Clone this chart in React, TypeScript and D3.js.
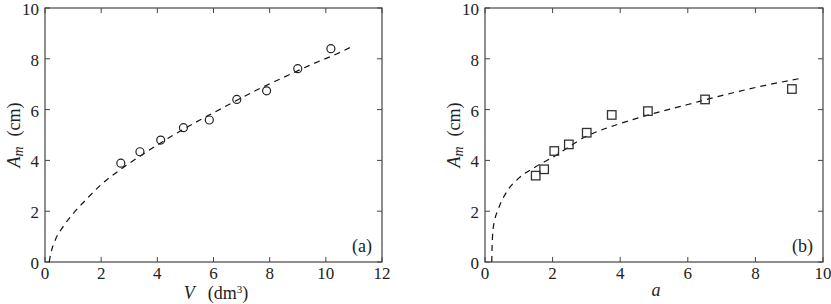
import * as d3 from "d3";

// panel (a): A_m vs V
const volumeV = [2.7, 3.38, 4.12, 4.93, 5.85, 6.83, 7.89, 9.0, 10.18];
const ampA = [3.89, 4.34, 4.8, 5.29, 5.59, 6.4, 6.74, 7.61, 8.4];
const fitAx = [0.15, 0.2, 0.36, 0.65, 1, 1.5, 2, 2.7, 3.5, 4.5, 5.5, 6.5, 7.5, 8.5, 9.5, 10.4, 11];
const fitAy = [0, 0.3, 0.85, 1.4, 1.9, 2.5, 3.05, 3.65, 4.25, 4.95, 5.58, 6.17, 6.75, 7.27, 7.78, 8.2, 8.52];

// panel (b): A_m vs a
const ratioB = [1.5, 1.75, 2.05, 2.48, 3.01, 3.75, 4.82, 6.51, 9.08];
const ampB = [3.4, 3.65, 4.37, 4.63, 5.09, 5.79, 5.94, 6.4, 6.81];
const fitBx = [0.2, 0.21, 0.25, 0.4, 0.65, 1, 1.5, 2, 3, 4, 5, 6, 7, 8, 9.3];
const fitBy = [0, 0.6, 1.4, 2.1, 2.78, 3.3, 3.75, 4.12, 4.95, 5.45, 5.85, 6.2, 6.55, 6.87, 7.22];

const yTicks = [0, 2, 4, 6, 8, 10];
const xTicksA = [0, 2, 4, 6, 8, 10, 12];
const xTicksB = [0, 2, 4, 6, 8, 10];

const FONT = '"Liberation Serif"';
const INK = "#222";
const FRAME = "#444";
const TOP = 8;
const BOTTOM = 262;
const tickFont = { fontFamily: FONT, fontSize: "17px" };
const titleFont = { fontFamily: FONT, fontSize: "18px" };

const Panel = ({ left, right, xMax, xTicks, px, py, fx, fy, marker, tag, xTitle }) => {
  const x = d3.scaleLinear().domain([0, xMax]).range([left, right]);
  const y = d3.scaleLinear().domain([0, 10]).range([BOTTOM, TOP]);
  const line = d3.line().x((d) => x(d[0])).y((d) => y(d[1])).curve(d3.curveMonotoneX);
  const fit = fx.map((v, i) => [v, fy[i]]);
  const pts = px.map((v, i) => [v, py[i]]);
  const s = 8.5;

  return (
    <g>
      {/* inward ticks on all four sides */}
      {xTicks.map((t) => (
        <g key={"x" + t}>
          <line x1={x(t)} x2={x(t)} y1={BOTTOM} y2={BOTTOM - 5} stroke={FRAME} />
          <line x1={x(t)} x2={x(t)} y1={TOP} y2={TOP + 5} stroke={FRAME} />
          <text x={x(t)} y={279} textAnchor="middle" fill={INK} style={tickFont}>
            {t}
          </text>
        </g>
      ))}
      {yTicks.map((t) => (
        <g key={"y" + t}>
          <line x1={left} x2={left + 5} y1={y(t)} y2={y(t)} stroke={FRAME} />
          <line x1={right} x2={right - 5} y1={y(t)} y2={y(t)} stroke={FRAME} />
          <text x={left - 6} y={y(t) + 7} textAnchor="end" fill={INK} style={tickFont}>
            {t}
          </text>
        </g>
      ))}
      <rect x={left} y={TOP} width={right - left} height={BOTTOM - TOP} fill="none" stroke={FRAME} strokeWidth={1.2} />

      <path d={line(fit)} fill="none" stroke="#111" strokeWidth={1.2} strokeDasharray="6,5" />

      {pts.map((d, i) =>
        marker === "circle" ? (
          <circle key={i} cx={x(d[0])} cy={y(d[1])} r={4} fill="none" stroke="#222" strokeWidth={1.2} />
        ) : (
          <rect key={i} x={x(d[0]) - s / 2} y={y(d[1]) - s / 2} width={s} height={s} fill="none" stroke="#333" strokeWidth={1.3} />
        )
      )}

      <text x={right - 10} y={BOTTOM - 10} textAnchor="end" fill={INK} style={titleFont}>
        {tag}
      </text>

      <text
        transform={`translate(${left - 25},${(TOP + BOTTOM) / 2}) rotate(-90)`}
        textAnchor="middle"
        fill={INK}
        style={titleFont}
      >
        <tspan style={{ fontStyle: "italic" }}>A</tspan>
        <tspan style={{ fontStyle: "italic", fontSize: "14px" }} dy={3}>m</tspan>
        <tspan dy={-3} dx={10}>(cm)</tspan>
      </text>

      {xTitle}
    </g>
  );
};

const App = () => (
  <svg width={831} height={304} style={{ position: "absolute", left: 0, top: 0, background: "#fff" }}>
    <Panel
      left={45} right={382} xMax={12} xTicks={xTicksA}
      px={volumeV} py={ampA} fx={fitAx} fy={fitAy} marker="circle" tag="(a)"
      xTitle={
        <text x={216} y={299} textAnchor="middle" fill={INK} style={titleFont}>
          <tspan style={{ fontStyle: "italic" }}>V</tspan>
          <tspan dx={13}>(dm</tspan>
          <tspan style={{ fontSize: "11px" }} dy={-6}>3</tspan>
          <tspan dy={6}>)</tspan>
        </text>
      }
    />
    <Panel
      left={485} right={823} xMax={10} xTicks={xTicksB}
      px={ratioB} py={ampB} fx={fitBx} fy={fitBy} marker="square" tag="(b)"
      xTitle={
        <text x={656} y={296} textAnchor="middle" fill={INK} style={{ ...titleFont, fontStyle: "italic" }}>
          a
        </text>
      }
    />
  </svg>
);

export default App;
